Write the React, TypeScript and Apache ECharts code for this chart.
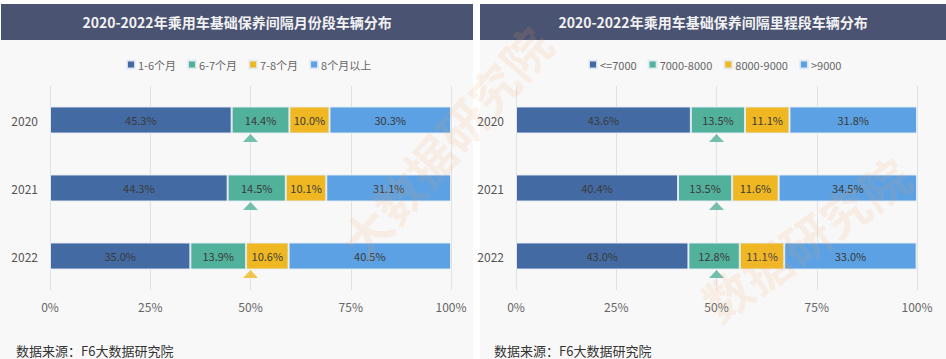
import React, { useEffect, useRef } from "react";
import * as echarts from "echarts";

const years = ["2020", "2021", "2022"];
const monthNames = ["1-6个月", "6-7个月", "7-8个月", "8个月以上"];
const monthValues = [
  [45.3, 44.3, 35.0],
  [14.4, 14.5, 13.9],
  [10.0, 10.1, 10.6],
  [30.3, 31.1, 40.5],
];
const mileNames = ["<=7000", "7000-8000", "8000-9000", ">9000"];
const mileValues = [
  [43.6, 40.4, 43.0],
  [13.5, 13.5, 12.8],
  [11.1, 11.6, 11.1],
  [31.8, 34.5, 33.0],
];
const xTicks = [0, 25, 50, 75, 100];
const medianMark = 50;
const leftTitle = "2020-2022年乘用车基础保养间隔月份段车辆分布";
const rightTitle = "2020-2022年乘用车基础保养间隔里程段车辆分布";
const sourceText = "数据来源：F6大数据研究院";
const watermark1 = "大数据研究院";
const watermark2 = "数据研究院";

const colors = ["#436aa2", "#52b19a", "#efb823", "#5ba1e3"];
const FONT = "'Noto Sans CJK SC', 'Noto Sans', sans-serif";

function markColor(values: number[][], idx: number) {
  let acc = 0;
  for (let s = 0; s < values.length; s++) {
    acc += values[s][idx];
    if (acc >= medianMark) return colors[s];
  }
  return colors[colors.length - 1];
}

function buildSeries(names: string[], values: number[][], axisIndex: number, stack: string) {
  const series: any[] = names.map((n, i) => ({
    type: "bar",
    name: n,
    stack,
    xAxisIndex: axisIndex,
    yAxisIndex: axisIndex,
    barWidth: 27,
    data: values[i],
    itemStyle: { color: colors[i], borderColor: "rgba(230,236,245,0.9)", borderWidth: 1 },
    label: {
      show: true,
      position: "inside",
      formatter: (p: any) => p.value.toFixed(1) + "%",
      color: "#3a3a3a",
      fontSize: 11,
      fontFamily: FONT,
    },
  }));
  series.push({
    type: "scatter",
    xAxisIndex: axisIndex,
    yAxisIndex: axisIndex,
    symbol: "triangle",
    symbolSize: [15, 8],
    symbolOffset: [0, 18],
    z: 5,
    data: years.map((y, i) => ({ value: [medianMark, y], itemStyle: { color: markColor(values, i) } })),
  });
  return series;
}

export default function App() {
  const ref = useRef<HTMLDivElement>(null);
  useEffect(() => {
    if (!ref.current) return;
    const chart = echarts.init(ref.current, undefined, { renderer: "svg" });
    const xAxisBase = (gridIndex: number) => ({
      type: "value",
      gridIndex,
      min: 0,
      max: 100,
      interval: 25,
      axisLine: { show: false },
      axisTick: { show: false },
      splitLine: { show: true, lineStyle: { color: "#e2e2e2", width: 1 } },
      axisLabel: {
        formatter: (v: number) => (xTicks.includes(v) ? v + "%" : ""),
        color: "#666",
        fontSize: 12,
        margin: 10,
        fontFamily: FONT,
      },
    });
    const yAxisBase = (gridIndex: number) => ({
      type: "category",
      gridIndex,
      data: years,
      inverse: true,
      axisLine: { show: false },
      axisTick: { show: false },
      axisLabel: { color: "#555", fontSize: 12, margin: 12, fontFamily: FONT },
    });
    const legendBase = {
      top: 54,
      itemWidth: 8,
      itemHeight: 8,
      itemGap: 11,
      icon: "rect",
      textStyle: { color: "#666", fontSize: 11, fontFamily: FONT, padding: [0, 0, 0, -2] },
    };
    const option: any = {
      animation: false,
      backgroundColor: "#ffffff",
      textStyle: { fontFamily: FONT },
      graphic: [
        { type: "rect", z: -10, shape: { x: 0, y: 40, width: 473, height: 319 }, style: { fill: "#f8f8f8" }, silent: true },
        { type: "rect", z: -10, shape: { x: 480, y: 40, width: 466, height: 319 }, style: { fill: "#f8f8f8" }, silent: true },
        { type: "rect", z: -9, shape: { x: 1, y: 4, width: 472, height: 36 }, style: { fill: "#4a5372" }, silent: true },
        { type: "rect", z: -9, shape: { x: 480, y: 4, width: 466, height: 36 }, style: { fill: "#4a5372" }, silent: true },
        {
          type: "text", z: 10, x: 237, y: 22,
          style: { text: leftTitle, fill: "#f2f2f2", fontSize: 14, fontWeight: "bold", fontFamily: FONT, align: "center", verticalAlign: "middle" },
        },
        {
          type: "text", z: 10, x: 713, y: 22,
          style: { text: rightTitle, fill: "#f2f2f2", fontSize: 14, fontWeight: "bold", fontFamily: FONT, align: "center", verticalAlign: "middle" },
        },
        {
          type: "text", z: 10, x: 16, y: 350,
          style: { text: sourceText, fill: "#333", fontSize: 13, fontFamily: FONT, verticalAlign: "middle" },
        },
        {
          type: "text", z: 10, x: 494, y: 350,
          style: { text: sourceText, fill: "#333", fontSize: 13, fontFamily: FONT, verticalAlign: "middle" },
        },
        {
          type: "text", z: 100, x: 445, y: 142, rotation: 0.85,
          style: { text: watermark1, fill: "rgba(250,165,90,0.15)", fontSize: 48, fontWeight: "bold", fontFamily: FONT, align: "center", verticalAlign: "middle" },
          silent: true,
        },
        {
          type: "text", z: 100, x: 805, y: 238, rotation: 0.62,
          style: { text: watermark2, fill: "rgba(250,165,90,0.15)", fontSize: 48, fontWeight: "bold", fontFamily: FONT, align: "center", verticalAlign: "middle" },
          silent: true,
        },
      ],
      legend: [
        { ...legendBase, data: monthNames, left: 121 },
        { ...legendBase, data: mileNames, left: 583 },
      ],
      grid: [
        { left: 50, right: 495, top: 86, bottom: 69 },
        { left: 516, right: 29, top: 86, bottom: 69 },
      ],
      xAxis: [xAxisBase(0), xAxisBase(1)],
      yAxis: [yAxisBase(0), yAxisBase(1)],
      series: [
        ...buildSeries(monthNames, monthValues, 0, "m"),
        ...buildSeries(mileNames, mileValues, 1, "k"),
      ],
    };
    chart.setOption(option);
    return () => chart.dispose();
  }, []);
  return (
    <div
      ref={ref}
      style={{ position: "fixed", left: 0, top: 0, width: 946, height: 359 }}
    />
  );
}
